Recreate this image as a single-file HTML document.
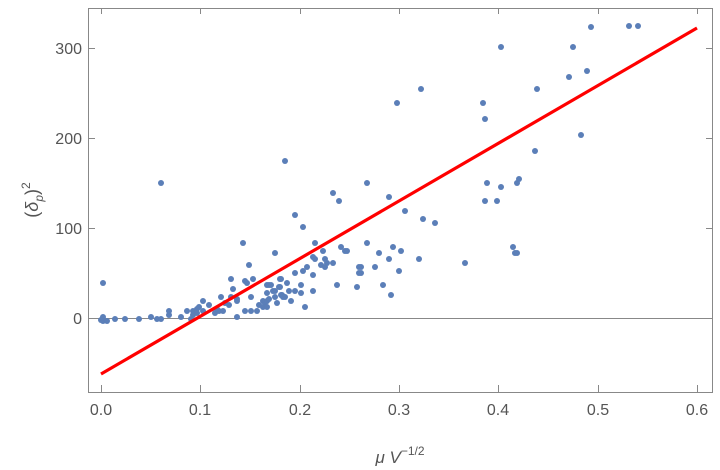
<!DOCTYPE html>
<html><head><meta charset="utf-8"><style>body{margin:0;background:#fff}svg{display:block}</style></head><body>
<svg width="720" height="470" viewBox="0 0 720 470" font-family="Liberation Sans, sans-serif">
<rect width="720" height="470" fill="#fff"/>
<g stroke="#888" stroke-width="1" fill="none">
<rect x="88.5" y="8.5" width="624" height="384"/>
<line x1="88" y1="318.5" x2="712" y2="318.5"/>
</g>
<g stroke="#888" stroke-width="1">
<line x1="101.5" y1="392" x2="101.5" y2="385"/><line x1="200.5" y1="392" x2="200.5" y2="385"/><line x1="300.5" y1="392" x2="300.5" y2="385"/><line x1="399.5" y1="392" x2="399.5" y2="385"/><line x1="498.5" y1="392" x2="498.5" y2="385"/><line x1="598.5" y1="392" x2="598.5" y2="385"/><line x1="697.5" y1="392" x2="697.5" y2="385"/>
<line x1="101.5" y1="8" x2="101.5" y2="14"/><line x1="200.5" y1="8" x2="200.5" y2="14"/><line x1="300.5" y1="8" x2="300.5" y2="14"/><line x1="399.5" y1="8" x2="399.5" y2="14"/><line x1="498.5" y1="8" x2="498.5" y2="14"/><line x1="598.5" y1="8" x2="598.5" y2="14"/><line x1="697.5" y1="8" x2="697.5" y2="14"/>
<line x1="88" y1="48.5" x2="95" y2="48.5"/><line x1="88" y1="138.5" x2="95" y2="138.5"/><line x1="88" y1="228.5" x2="95" y2="228.5"/><line x1="88" y1="318.5" x2="95" y2="318.5"/>
<line x1="706" y1="48.5" x2="712" y2="48.5"/><line x1="706" y1="138.5" x2="712" y2="138.5"/><line x1="706" y1="228.5" x2="712" y2="228.5"/>
</g>
<g font-size="16" fill="#555" text-anchor="middle">
<text x="101" y="415">0.0</text><text x="200" y="415">0.1</text><text x="300" y="415">0.2</text><text x="399" y="415">0.3</text><text x="498" y="415">0.4</text><text x="598" y="415">0.5</text><text x="697" y="415">0.6</text>
</g>
<g font-size="16" fill="#555" text-anchor="end">
<text x="82" y="54">300</text><text x="82" y="144">200</text><text x="82" y="234">100</text><text x="82" y="324">0</text><text x="82" y="414" fill="none"></text>
</g>
<text x="400" y="463" font-size="17" fill="#555" text-anchor="middle"><tspan font-style="italic">μ V</tspan><tspan font-size="12" dy="-8">−1/2</tspan></text>
<text transform="translate(38,200) rotate(-90)" font-size="18" fill="#555" text-anchor="middle">(<tspan font-style="italic">δ</tspan><tspan font-style="italic" font-size="12" dy="5">p</tspan><tspan dy="-5">)</tspan><tspan font-size="12" dy="-8">2</tspan></text>
<g fill="#5b7fb8">
<circle cx="591" cy="27" r="3"/><circle cx="629" cy="26" r="3"/><circle cx="638" cy="26" r="3"/><circle cx="573" cy="47" r="3"/><circle cx="501" cy="47" r="3"/><circle cx="587" cy="71" r="3"/><circle cx="569" cy="77" r="3"/><circle cx="421" cy="89" r="3"/><circle cx="537" cy="89" r="3"/><circle cx="397" cy="103" r="3"/><circle cx="483" cy="103" r="3"/><circle cx="485" cy="119" r="3"/><circle cx="581" cy="135" r="3"/><circle cx="535" cy="151" r="3"/><circle cx="285" cy="161" r="3"/><circle cx="161" cy="183" r="3"/><circle cx="367" cy="183" r="3"/><circle cx="487" cy="183" r="3"/><circle cx="501" cy="187" r="3"/><circle cx="517" cy="183" r="3"/><circle cx="519" cy="179" r="3"/><circle cx="333" cy="193" r="3"/><circle cx="339" cy="201" r="3"/><circle cx="389" cy="197" r="3"/><circle cx="485" cy="201" r="3"/><circle cx="497" cy="201" r="3"/><circle cx="295" cy="215" r="3"/><circle cx="405" cy="211" r="3"/><circle cx="303" cy="227" r="3"/><circle cx="423" cy="219" r="3"/><circle cx="435" cy="223" r="3"/><circle cx="315" cy="243" r="3"/><circle cx="367" cy="243" r="3"/><circle cx="243" cy="243" r="3"/><circle cx="341" cy="247" r="3"/><circle cx="345" cy="251" r="3"/><circle cx="347" cy="251" r="3"/><circle cx="323" cy="251" r="3"/><circle cx="393" cy="247" r="3"/><circle cx="401" cy="251" r="3"/><circle cx="379" cy="253" r="3"/><circle cx="275" cy="253" r="3"/><circle cx="513" cy="247" r="3"/><circle cx="515" cy="253" r="3"/><circle cx="517" cy="253" r="3"/><circle cx="313" cy="257" r="3"/><circle cx="315" cy="259" r="3"/><circle cx="325" cy="259" r="3"/><circle cx="389" cy="259" r="3"/><circle cx="419" cy="259" r="3"/><circle cx="333" cy="263" r="3"/><circle cx="327" cy="263" r="3"/><circle cx="321" cy="265" r="3"/><circle cx="249" cy="265" r="3"/><circle cx="325" cy="267" r="3"/><circle cx="361" cy="267" r="3"/><circle cx="375" cy="267" r="3"/><circle cx="307" cy="267" r="3"/><circle cx="359" cy="267" r="3"/><circle cx="303" cy="271" r="3"/><circle cx="295" cy="273" r="3"/><circle cx="361" cy="273" r="3"/><circle cx="359" cy="273" r="3"/><circle cx="399" cy="271" r="3"/><circle cx="465" cy="263" r="3"/><circle cx="313" cy="275" r="3"/><circle cx="280" cy="279" r="3"/><circle cx="287" cy="283" r="3"/><circle cx="301" cy="285" r="3"/><circle cx="337" cy="285" r="3"/><circle cx="357" cy="287" r="3"/><circle cx="383" cy="285" r="3"/><circle cx="280" cy="287" r="3"/><circle cx="289" cy="291" r="3"/><circle cx="295" cy="291" r="3"/><circle cx="313" cy="291" r="3"/><circle cx="301" cy="293" r="3"/><circle cx="391" cy="295" r="3"/><circle cx="282" cy="295" r="3"/><circle cx="285" cy="297" r="3"/><circle cx="291" cy="301" r="3"/><circle cx="305" cy="307" r="3"/><circle cx="103" cy="283" r="3"/><circle cx="231" cy="279" r="3"/><circle cx="245" cy="281" r="3"/><circle cx="247" cy="283" r="3"/><circle cx="253" cy="279" r="3"/><circle cx="233" cy="289" r="3"/><circle cx="281" cy="279" r="3"/><circle cx="267" cy="285" r="3"/><circle cx="269" cy="285" r="3"/><circle cx="271" cy="285" r="3"/><circle cx="267" cy="293" r="3"/><circle cx="273" cy="291" r="3"/><circle cx="275" cy="291" r="3"/><circle cx="279" cy="287" r="3"/><circle cx="221" cy="297" r="3"/><circle cx="231" cy="297" r="3"/><circle cx="237" cy="299" r="3"/><circle cx="237" cy="301" r="3"/><circle cx="251" cy="297" r="3"/><circle cx="263" cy="301" r="3"/><circle cx="265" cy="303" r="3"/><circle cx="267" cy="301" r="3"/><circle cx="269" cy="299" r="3"/><circle cx="275" cy="297" r="3"/><circle cx="281" cy="295" r="3"/><circle cx="283" cy="297" r="3"/><circle cx="277" cy="303" r="3"/><circle cx="259" cy="305" r="3"/><circle cx="263" cy="307" r="3"/><circle cx="267" cy="307" r="3"/><circle cx="203" cy="301" r="3"/><circle cx="209" cy="305" r="3"/><circle cx="199" cy="307" r="3"/><circle cx="193" cy="311" r="3"/><circle cx="187" cy="311" r="3"/><circle cx="197" cy="309" r="3"/><circle cx="203" cy="311" r="3"/><circle cx="215" cy="313" r="3"/><circle cx="219" cy="311" r="3"/><circle cx="223" cy="311" r="3"/><circle cx="229" cy="305" r="3"/><circle cx="225" cy="303" r="3"/><circle cx="217" cy="309" r="3"/><circle cx="169" cy="311" r="3"/><circle cx="169" cy="315" r="3"/><circle cx="181" cy="317" r="3"/><circle cx="191" cy="319" r="3"/><circle cx="193" cy="315" r="3"/><circle cx="197" cy="313" r="3"/><circle cx="151" cy="317" r="3"/><circle cx="157" cy="319" r="3"/><circle cx="161" cy="319" r="3"/><circle cx="139" cy="319" r="3"/><circle cx="125" cy="319" r="3"/><circle cx="115" cy="319" r="3"/><circle cx="103" cy="317" r="3"/><circle cx="103" cy="321" r="3"/><circle cx="107" cy="321" r="3"/><circle cx="101" cy="320" r="3"/><circle cx="237" cy="317" r="3"/><circle cx="245" cy="311" r="3"/><circle cx="251" cy="311" r="3"/><circle cx="257" cy="311" r="3"/>
</g>
<line x1="101" y1="374" x2="697" y2="28" stroke="#f00" stroke-width="3.2"/>
</svg>
</body></html>
